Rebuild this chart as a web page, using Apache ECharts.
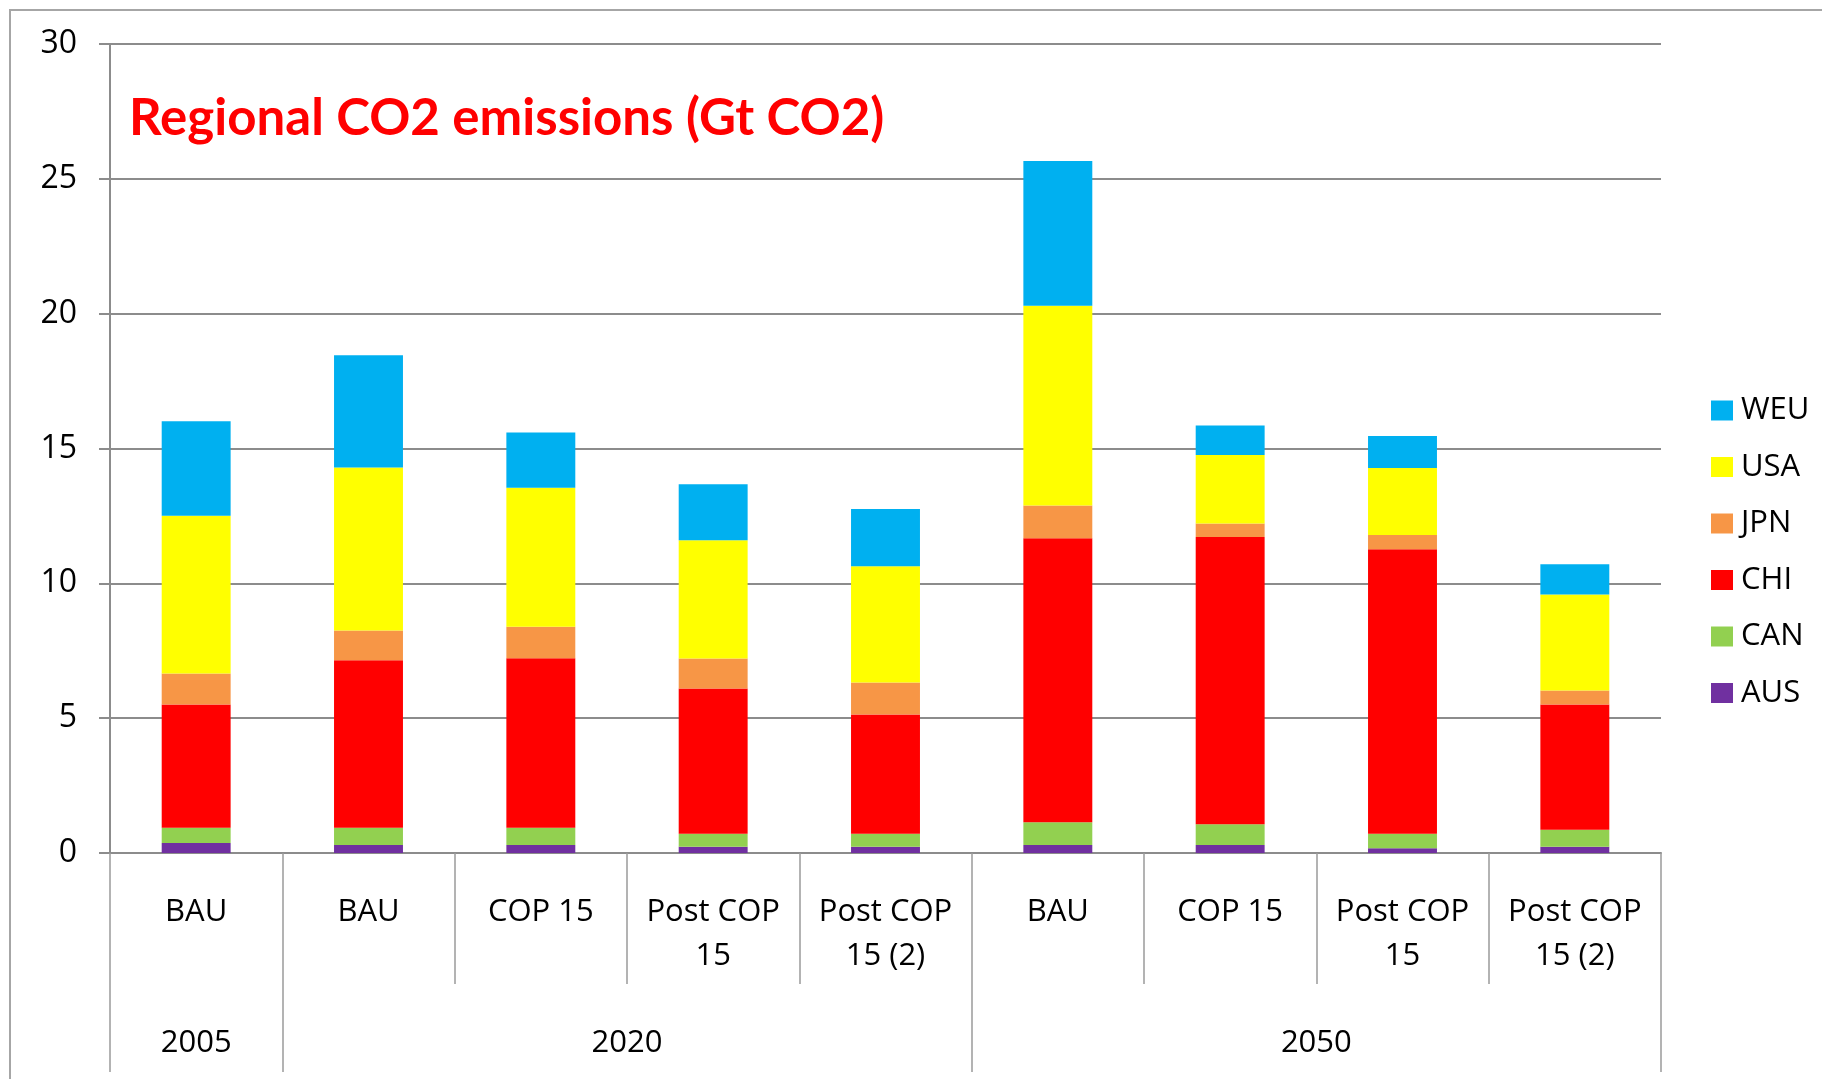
<!DOCTYPE html>
<html>
<head>
<meta charset="utf-8">
<title>Regional CO2 emissions</title>
<script src="https://cdn.jsdelivr.net/npm/echarts@6/dist/echarts.min.js"></script>
<style>
  html, body { margin: 0; padding: 0; background: #fff; }
  #chart { width: 1822px; height: 1079px; }
</style>
</head>
<body>
<div id="chart"></div>
<script>
// scenario per bar, years that group them
const scenarios = ['BAU', 'BAU', 'COP 15', 'Post COP\n15', 'Post COP\n15 (2)', 'BAU', 'COP 15', 'Post COP\n15', 'Post COP\n15 (2)'];
const years = ['2005', '2020', '2050'];
const yearCenters = [0.5, 3, 7]; // in category units from the left edge
const yearStarts = [0, 1, 5]; // first category index of each year

// Gt CO2, stacked bottom to top
const AUS = [0.37, 0.30, 0.30, 0.23, 0.23, 0.30, 0.30, 0.18, 0.23];
const CAN = [0.57, 0.64, 0.64, 0.48, 0.48, 0.84, 0.77, 0.53, 0.63];
const CHI = [4.57, 6.21, 6.28, 5.39, 4.43, 10.53, 10.65, 10.55, 4.65];
const JPN = [1.15, 1.10, 1.17, 1.11, 1.18, 1.22, 0.50, 0.53, 0.52];
const USA = [5.85, 6.05, 5.15, 4.39, 4.31, 7.40, 2.54, 2.49, 3.56];
const WEU = [3.50, 4.16, 2.05, 2.07, 2.13, 5.37, 1.09, 1.18, 1.12];

const yTicks = [0, 30, 5]; // min, max, step

const regions = [
  ['AUS', AUS, '#7030a0'],
  ['CAN', CAN, '#92d050'],
  ['CHI', CHI, '#ff0000'],
  ['JPN', JPN, '#f79646'],
  ['USA', USA, '#ffff00'],
  ['WEU', WEU, '#00b0f0'],
];

const font = '"Open Sans", "Liberation Sans", sans-serif';
const gray = '#8c8c8c';

const myChart = echarts.init(document.getElementById('chart'));

const series = regions.map(([name, data, color]) => ({
  name,
  type: 'bar',
  stack: 'total',
  data,
  barWidth: '40%',
  itemStyle: { color },
  animation: false,
}));

const option = {
  animation: false,
  backgroundColor: '#fff',
  title: {
    text: 'Regional CO2 emissions (Gt CO2)',
    left: 129,
    top: 93,
    padding: 0,
    textStyle: {
      color: '#ff0000',
      fontFamily: 'Lato, "Noto Sans", sans-serif',
      fontWeight: 'bold',
      fontSize: 51,
    },
  },
  graphic: [{
    // outer chart frame, right and bottom edges fall outside the picture
    type: 'rect',
    shape: { x: 10, y: 10, width: 2000, height: 2000 },
    style: { fill: 'none', stroke: '#a6a6a6', lineWidth: 2 },
    silent: true,
  }],
  legend: {
    orient: 'vertical',
    left: 1706,
    top: 390,
    itemWidth: 22,
    itemHeight: 20,
    itemGap: 25.5,
    icon: 'rect',
    data: ['WEU', 'USA', 'JPN', 'CHI', 'CAN', 'AUS'],
    textStyle: {
      fontFamily: font,
      fontSize: 31,
      lineHeight: 20,
      color: '#000',
      padding: [0, 0, 0, 3],
    },
  },
  grid: {
    left: 110,
    right: 161,
    top: 44,
    bottom: 226,
  },
  xAxis: [
    {
      type: 'category',
      data: scenarios,
      position: 'bottom',
      axisLine: { show: true, lineStyle: { color: gray, width: 2 } },
      axisTick: { show: true, length: 131, lineStyle: { color: '#9a9a9a', width: 1.5 } },
      axisLabel: {
        interval: 0,
        margin: 37,
        fontFamily: font,
        fontSize: 31,
        lineHeight: 44,
        color: '#000',
        align: 'center',
      },
    },
    {
      // longer ticks marking the year groups
      type: 'category',
      data: scenarios,
      position: 'bottom',
      axisLine: { show: false },
      axisTick: {
        show: true,
        length: 219,
        interval: (index) => yearStarts.includes(index),
        lineStyle: { color: '#9a9a9a', width: 1.5 },
      },
      axisLabel: { show: false },
    },
    {
      // year labels, centred over their groups
      type: 'value',
      min: 0,
      max: scenarios.length,
      interval: 0.5,
      position: 'bottom',
      axisLine: { show: false },
      axisTick: { show: false },
      splitLine: { show: false },
      axisLabel: {
        margin: 168,
        fontFamily: font,
        fontSize: 31,
        lineHeight: 44,
        color: '#000',
        formatter: (v) => {
          const i = yearCenters.indexOf(v);
          return i >= 0 ? years[i] : '';
        },
      },
    },
  ],
  yAxis: {
    type: 'value',
    min: yTicks[0],
    max: yTicks[1],
    interval: yTicks[2],
    axisLine: { show: true, lineStyle: { color: gray, width: 2 } },
    axisTick: { show: true, length: 11, lineStyle: { color: gray, width: 2 } },
    splitLine: { show: true, lineStyle: { color: gray, width: 2 } },
    axisLabel: {
      margin: 33,
      fontFamily: font,
      fontSize: 32,
      color: '#000',
    },
  },
  series,
};

myChart.setOption(option);
</script>
</body>
</html>
